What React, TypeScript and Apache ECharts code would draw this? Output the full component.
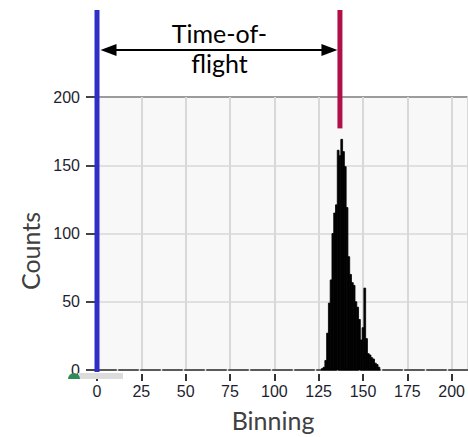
import React, { useEffect, useRef } from 'react';
import * as echarts from 'echarts';

// Histogram: counts per bin, starting at bin 127
const binStart = 127;
const counts = [1, 2, 7, 27, 49, 66, 100, 115, 121, 161, 157, 169, 160, 149, 119, 83, 70, 64, 62, 50, 46, 37, 22, 31, 60, 23, 12, 11, 9, 8, 5, 4, 2];
const xTicks = [0, 25, 50, 75, 100, 125, 150, 175, 200];
const yTicks = [0, 50, 100, 150, 200];
const xMax = 209;
const yMax = 200;
// Annotation markers (in data units)
const tofStart = 0;
const tofEnd = 137;
const redBottomValue = 177;
const annotationLines = ['Time-of-', 'flight'];
const xName = 'Binning';
const yName = 'Counts';

const tickFont = 'Liberation Sans, Arial, sans-serif';
const nameFont = 'Lato, "Open Sans", sans-serif';

export default function App() {
  const ref = useRef<HTMLDivElement>(null);
  useEffect(() => {
    if (!ref.current) return;
    const chart = echarts.init(ref.current, undefined, { renderer: 'svg' });
    const data = counts.map((v, i) => [binStart + i, v]);
    const labelFmt = (v: number) => (xTicks.indexOf(v) >= 0 ? String(v) : '');
    chart.setOption({
      animation: false,
      backgroundColor: '#ffffff',
      grid: {
        left: 97,
        top: 97,
        width: 371,
        height: 273,
        show: true,
        backgroundColor: '#f8f8f8',
        borderWidth: 0,
      },
      xAxis: [
        {
          type: 'value',
          min: 0,
          max: xMax,
          interval: 25,
          axisLine: { show: true, lineStyle: { color: '#5a5a5a', width: 2, type: [19, 3] } },
          axisTick: { show: false },
          axisLabel: { show: false },
          splitLine: { show: true, lineStyle: { color: '#d8d8d8', width: 2 } },
        },
        {
          type: 'value',
          min: 0,
          max: xMax,
          interval: 25,
          position: 'bottom',
          offset: 4,
          axisLine: { show: false },
          axisTick: { show: true, length: 7, lineStyle: { color: '#333', width: 2 }, customValues: xTicks },
          axisLabel: {
            show: true,
            margin: 9,
            fontSize: 16,
            fontFamily: tickFont,
            color: '#1e1e30',
            formatter: labelFmt,
            customValues: xTicks,
          },
          splitLine: { show: false },
        },
      ],
      yAxis: {
        type: 'value',
        min: 0,
        max: yMax,
        interval: 50,
        axisLine: { show: false },
        axisTick: { show: true, length: 11, lineStyle: { color: '#444', width: 2 } },
        axisLabel: {
          margin: 17,
          fontSize: 16,
          fontFamily: tickFont,
          color: '#1e1e30',
          formatter: (v: number) => (yTicks.indexOf(v) >= 0 ? String(v) : ''),
        },
        splitLine: {
          show: true,
          lineStyle: { color: ['#e0e0e0', '#e0e0e0', '#e0e0e0', '#e0e0e0', '#9c9c9c'], width: 2 },
        },
      },
      series: [
        {
          type: 'custom',
          xAxisIndex: 0,
          yAxisIndex: 0,
          data,
          renderItem: (params: any, api: any) => {
            const b = api.value(0);
            const v = api.value(1);
            const p0 = api.coord([b - 0.5, v]);
            const p1 = api.coord([b + 0.5, 0]);
            return {
              type: 'rect',
              shape: { x: p0[0], y: p0[1], width: p1[0] - p0[0], height: p1[1] - p0[1] },
              style: { fill: '#000000', stroke: '#000000', lineWidth: 0.8 },
            };
          },
        },
      ],
    });

    const pS = chart.convertToPixel({ xAxisIndex: 0, yAxisIndex: 0 }, [tofStart, 0]) as number[];
    const pE = chart.convertToPixel({ xAxisIndex: 0, yAxisIndex: 0 }, [tofEnd, redBottomValue]) as number[];
    const topY = 10;
    const arrowY = 50;
    const midX = (pS[0] + pE[0]) / 2 + 1;
    const leftTip = pS[0] + 3.5;
    const rightTip = pE[0] - 2.5;
    chart.setOption({
      graphic: [
        {
          type: 'rect',
          z: 100,
          shape: { x: pS[0] - 2.5, y: topY, width: 5, height: pS[1] + 2 - topY },
          style: { fill: '#2f2fc6' },
        },
        {
          type: 'rect',
          z: 100,
          shape: { x: pE[0] - 2.5, y: topY, width: 5, height: pE[1] - topY },
          style: { fill: '#b0104a' },
        },
        {
          type: 'line',
          z: 100,
          shape: { x1: leftTip + 10, y1: arrowY, x2: rightTip - 10, y2: arrowY },
          style: { stroke: '#000', lineWidth: 2 },
        },
        {
          type: 'polygon',
          z: 100,
          shape: { points: [[leftTip, arrowY], [leftTip + 16, arrowY - 6], [leftTip + 16, arrowY + 6]] },
          style: { fill: '#000' },
        },
        {
          type: 'polygon',
          z: 100,
          shape: { points: [[rightTip, arrowY], [rightTip - 16, arrowY - 6], [rightTip - 16, arrowY + 6]] },
          style: { fill: '#000' },
        },
        {
          type: 'text',
          z: 100,
          x: midX,
          y: 33,
          style: { text: annotationLines[0], fontSize: 25, fontFamily: nameFont, fill: '#000', align: 'center', verticalAlign: 'middle' },
        },
        {
          type: 'text',
          z: 100,
          x: midX,
          y: 63,
          style: { text: annotationLines[1], fontSize: 25, fontFamily: nameFont, fill: '#000', align: 'center', verticalAlign: 'middle' },
        },
        {
          type: 'text',
          z: 100,
          x: 30,
          y: 251,
          rotation: Math.PI / 2,
          style: { text: yName, fontSize: 25, fontFamily: nameFont, fill: '#404040', align: 'center', verticalAlign: 'middle' },
        },
        {
          type: 'text',
          z: 100,
          x: 273,
          y: 420,
          style: { text: xName, fontSize: 25, fontFamily: nameFont, fill: '#404040', align: 'center', verticalAlign: 'middle' },
        },
        {
          type: 'rect',
          z: 90,
          shape: { x: 78, y: 373, width: 45, height: 6 },
          style: { fill: '#dcdcdc' },
        },
        {
          type: 'sector',
          z: 91,
          shape: { cx: 74, cy: 379, r: 6, startAngle: Math.PI, endAngle: Math.PI * 2 },
          style: { fill: '#2e8b57' },
        },
      ],
    });
    return () => chart.dispose();
  }, []);
  return <div ref={ref} style={{ position: 'fixed', left: 0, top: 0, width: 468, height: 437 }} />;
}
